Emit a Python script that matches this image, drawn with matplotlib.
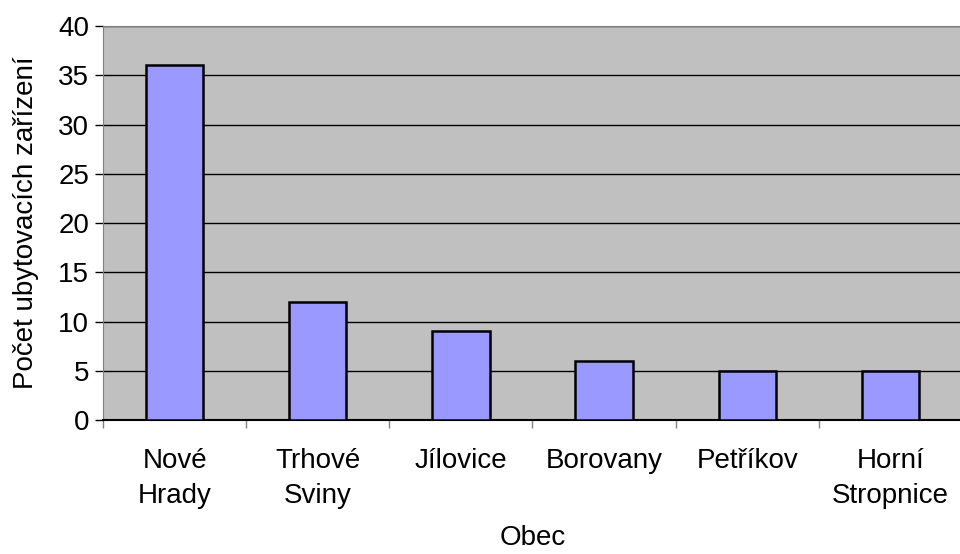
import matplotlib.pyplot as plt
import numpy as np

plt.rcParams['font.family'] = ['Liberation Sans', 'DejaVu Sans']

obce = ['Nové\nHrady', 'Trhové\nSviny', 'Jílovice', 'Borovany', 'Petříkov', 'Horní\nStropnice']
pocet = [36, 12, 9, 6, 5, 5]

fig = plt.figure(figsize=(9.6, 5.54), dpi=100)
ax = fig.add_axes([0.1073, 0.2419, 0.8947, 0.7111])
ax.set_facecolor('#C0C0C0')

x = np.arange(len(obce))
ax.bar(x, pocet, width=0.4, color='#9999FF', edgecolor='black', linewidth=1.8, zorder=3)

ax.set_xlim(-0.5, len(obce) - 0.5)
ax.set_ylim(0, 40)
ax.set_yticks(range(0, 41, 5))
ax.yaxis.grid(True, color='black', linewidth=1, zorder=1)
ax.set_axisbelow(True)

# category boundary ticks (major) and centred labels (minor)
ax.set_xticks(np.arange(-0.5, len(obce), 1))
ax.set_xticklabels([])
ax.set_xticks(x, minor=True)
ax.set_xticklabels(obce, minor=True, fontsize=20, linespacing=1.45)
ax.tick_params(axis='x', which='minor', length=0, pad=20)
ax.tick_params(axis='x', which='major', length=6, width=1, color='#808080')
ax.tick_params(axis='y', labelsize=20, length=6, width=1, pad=4)

for s in ['top', 'right', 'left']:
    ax.spines[s].set_color('#808080')
ax.spines['bottom'].set_color('black')
ax.spines['bottom'].set_linewidth(1.5)

ax.set_ylabel('Počet ubytovacích zařízení', fontsize=20, labelpad=14)
ax.set_xlabel('Obec', fontsize=20, labelpad=12)

fig.savefig('out.png', dpi=100)
